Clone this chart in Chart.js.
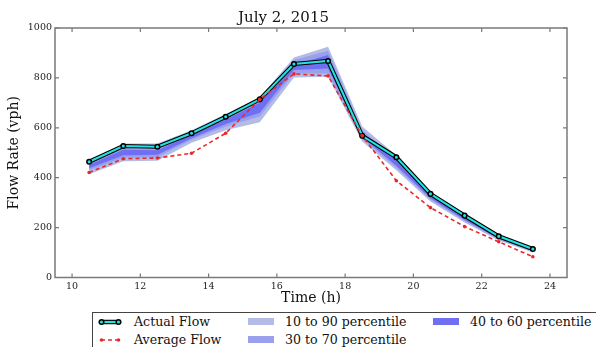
<!DOCTYPE html>
<html>
<head>
<meta charset="utf-8">
<script src="https://cdn.jsdelivr.net/npm/chart.js@4.4.1/dist/chart.umd.min.js"></script>
<style>
  html, body { margin: 0; padding: 0; background: #fff; overflow: hidden; width: 596px; height: 347px; }
  #wrap { position: relative; width: 596px; height: 347px; }
  canvas { display: block; }
  #legend { position: absolute; left: 92px; top: 312px; width: 520px; height: 50px; border: 1px solid #444; background: #fff;
            font-family: 'DejaVu Serif', serif; font-size: 12.6px; color: #111; }
  .item { position: absolute; display: flex; align-items: center; white-space: nowrap; }
  .sw { display: inline-block; width: 26px; height: 7px; margin-right: 11px; }
</style>
</head>
<body>
<div id="wrap">
  <canvas id="c" width="596" height="347"></canvas>
  <div id="legend">
    <div class="item" style="left:5px; top:1px;">
      <svg width="24" height="14" style="margin-right:12px"><line x1="3" y1="7" x2="21" y2="7" stroke="#000" stroke-width="4.5"/><line x1="3" y1="7" x2="21" y2="7" stroke="#22e3dd" stroke-width="2.2"/><circle cx="3.5" cy="7" r="2.3" fill="#22e3dd" stroke="#000" stroke-width="1.5"/><circle cx="20.5" cy="7" r="2.3" fill="#22e3dd" stroke="#000" stroke-width="1.5"/></svg>Actual Flow
    </div>
    <div class="item" style="left:5px; top:19px;">
      <svg width="24" height="14" style="margin-right:12px"><line x1="3" y1="7" x2="21" y2="7" stroke="#e62a2a" stroke-width="1.5" stroke-dasharray="4,3"/><circle cx="3.5" cy="7" r="1.8" fill="#e62a2a"/><circle cx="20.5" cy="7" r="1.8" fill="#e62a2a"/></svg>Average Flow
    </div>
    <div class="item" style="left:155px; top:1px;"><span class="sw" style="background:#b3bce6"></span>10 to 90 percentile</div>
    <div class="item" style="left:155px; top:19px;"><span class="sw" style="background:#9a9fee"></span>30 to 70 percentile</div>
    <div class="item" style="left:340px; top:1px;"><span class="sw" style="background:#6f6ff3"></span>40 to 60 percentile</div>
  </div>
</div>
<script>
// ---- data ----
const hours   = [10.5, 11.5, 12.5, 13.5, 14.5, 15.5, 16.5, 17.5, 18.5, 19.5, 20.5, 21.5, 22.5, 23.5];
const actualFlow  = [464, 527, 524, 578, 644, 714, 856, 868, 568, 482, 335, 248, 165, 114];
const averageFlow = [421, 476, 479, 498, 578, 714, 816, 808, 568, 388, 280, 204, 143, 83];
const p10 = [414, 466, 468, 540, 590, 622, 802, 805, 545, 430, 305, 220, 148, 100];
const p90 = [470, 537, 537, 590, 655, 722, 882, 925, 605, 490, 345, 255, 172, 120];
const p30 = [430, 480, 482, 552, 605, 645, 818, 818, 555, 440, 312, 226, 152, 104];
const p70 = [458, 522, 520, 578, 640, 708, 872, 909, 590, 478, 335, 248, 165, 115];
const p40 = [438, 490, 492, 558, 615, 660, 832, 838, 562, 448, 318, 230, 155, 106];
const p60 = [452, 512, 510, 572, 632, 700, 852, 892, 580, 470, 330, 242, 162, 112];
const xTicks = [10, 12, 14, 16, 18, 20, 22, 24];
const yTicks = [0, 200, 400, 600, 800, 1000];

const pts = arr => hours.map((h, i) => ({x: h, y: arr[i]}));
const SERIF = "'DejaVu Serif', serif";

const frameTicks = {
  id: 'frameTicks',
  afterDatasetsDraw(chart) {
    const {ctx, chartArea: a, scales} = chart;
    ctx.save();
    ctx.strokeStyle = '#7a7a7a';
    ctx.lineWidth = 1.2;
    ctx.beginPath();
    scales.x.ticks.forEach(t => {
      const px = scales.x.getPixelForValue(t.value);
      ctx.moveTo(px, a.bottom); ctx.lineTo(px, a.bottom - 4);
      ctx.moveTo(px, a.top); ctx.lineTo(px, a.top + 4);
    });
    scales.y.ticks.forEach(t => {
      const py = scales.y.getPixelForValue(t.value);
      ctx.moveTo(a.left, py); ctx.lineTo(a.left + 4, py);
      ctx.moveTo(a.right, py); ctx.lineTo(a.right - 4, py);
    });
    ctx.stroke();
    ctx.lineWidth = 1.5;
    ctx.strokeRect(a.left, a.top, a.right - a.left, a.bottom - a.top);
    ctx.restore();
  }
};

const band = (label, data, fillTo, color, order) => ({
  label, data: pts(data), borderWidth: 0, pointRadius: 0, backgroundColor: color,
  borderColor: color, fill: fillTo, order, tension: 0
});

new Chart(document.getElementById('c'), {
  type: 'line',
  data: {
    datasets: [
      band('10 to 90 percentile', p90, 1, '#b3bce6', 10),
      band('p10', p10, false, '#b3bce6', 11),
      band('30 to 70 percentile', p70, 3, '#9a9fee', 8),
      band('p30', p30, false, '#9a9fee', 9),
      band('40 to 60 percentile', p60, 5, '#6f6ff3', 6),
      band('p40', p40, false, '#6f6ff3', 7),
      { label: 'Actual Flow outline', data: pts(actualFlow), borderColor: '#000', borderWidth: 4.2,
        pointRadius: 0, fill: false, order: 3, tension: 0 },
      { label: 'Actual Flow', data: pts(actualFlow), borderColor: '#22e3dd', borderWidth: 2.1,
        pointRadius: 2.3, pointBackgroundColor: '#22e3dd', pointBorderColor: '#000', pointBorderWidth: 1.5,
        fill: false, order: 2, tension: 0 },
      { label: 'Average Flow', data: pts(averageFlow), borderColor: '#e62a2a', borderWidth: 1.6,
        borderDash: [4, 3], pointRadius: 1.8, pointBackgroundColor: '#e62a2a', pointBorderWidth: 0,
        fill: false, order: 1, tension: 0 }
    ]
  },
  options: {
    responsive: false,
    animation: false,
    events: [],
    layout: { padding: { left: 0, right: 29, top: 0, bottom: 0 } },
    plugins: {
      legend: { display: false },
      tooltip: { enabled: false },
      title: { display: true, text: 'July 2, 2015', color: '#111',
               font: { family: SERIF, size: 15, weight: 'normal' }, padding: { top: 9, bottom: 1 } }
    },
    scales: {
      x: {
        type: 'linear', min: 9.5, max: 24.5,
        afterBuildTicks: s => { s.ticks = xTicks.map(v => ({value: v})); },
        afterFit: s => { s.height = 69.5; },
        grid: { display: false, drawTicks: false },
        border: { display: false },
        ticks: { color: '#222', font: { family: SERIF, size: 9.5 }, padding: 3, maxRotation: 0,
                 callback: v => String(v) },
        title: { display: true, text: 'Time (h)', color: '#111', font: { family: SERIF, size: 14 },
                 padding: { top: 0, bottom: 40.5 } }
      },
      y: {
        type: 'linear', min: 0, max: 1000,
        afterBuildTicks: s => { s.ticks = yTicks.map(v => ({value: v})); },
        afterFit: s => { s.width = 55; },
        grid: { display: false, drawTicks: false },
        border: { display: false },
        ticks: { color: '#222', font: { family: SERIF, size: 9.5 }, padding: 3,
                 callback: v => String(v) },
        title: { display: true, text: 'Flow Rate (vph)', color: '#111', font: { family: SERIF, size: 14 },
                 padding: { top: 5.6, bottom: 0 } }
      }
    }
  },
  plugins: [frameTicks]
});
</script>
</body>
</html>
